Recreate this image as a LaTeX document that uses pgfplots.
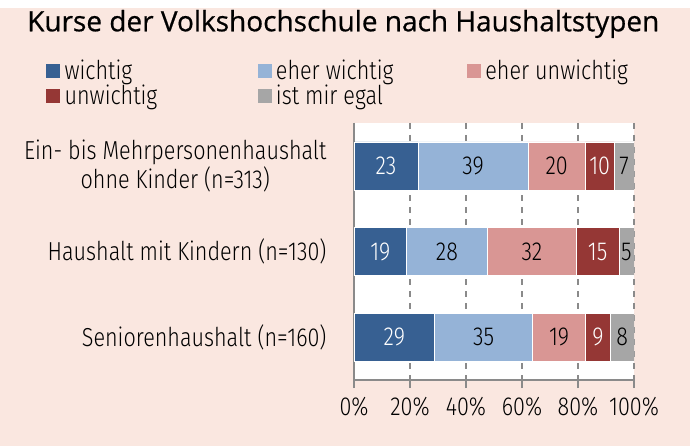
\documentclass[border=0pt]{standalone}
\usepackage{fontspec}
\setmainfont{Fira Sans Light}[FakeStretch=0.83]
\newfontfamily\titlefont{Open Sans}[FakeBold=0.6]
\usepackage{pgfplots}
\pgfplotsset{compat=1.18}
\definecolor{bgpink}{HTML}{FAE7E0}
\definecolor{cA}{HTML}{376092}
\definecolor{cB}{HTML}{95B3D7}
\definecolor{cC}{HTML}{D99694}
\definecolor{cD}{HTML}{953735}
\definecolor{cE}{HTML}{A6A6A6}
\definecolor{axgray}{HTML}{8A8A8A}
\newcommand{\fs}{\fontsize{26}{29.5}\selectfont}
\begin{document}
\begin{tikzpicture}[x=1pt,y=1pt]
\fill[bgpink] (0,0) rectangle (690,438);
\fill[white] (0,438) rectangle (690,446);
\node[anchor=west, inner sep=0pt, font=\titlefont\fontsize{28}{32}\selectfont] at (27,422) {Kurse der Volkshochschule nach Haushaltstypen};
\pgfplotsset{
  common/.style={
    at={(354pt,66pt)}, anchor=south west, scale only axis,
    width=280pt, height=257pt,
    xmin=0, xmax=100, ymin=0.5, ymax=3.5, y dir=reverse,
  }
}
\begin{axis}[common,
  xbar stacked, bar width=48pt,
  axis background/.style={fill=white},
  axis lines*=left,
  axis line style={axgray, line width=1.3pt},
  xtick={0,20,40,60,80,100},
  xticklabel={\pgfmathprintnumber{\tick}\%},
  /pgf/number format/assume math mode=true,
  xmajorgrids,
  grid style={axgray, line width=1.2pt, dash pattern=on 6pt off 6pt},
  ytick={1,2,3},
  yticklabels={{Ein- bis Mehrpersonenhaushalt\\ohne Kinder (n=313)},{Haushalt mit Kindern (n=130)},{Seniorenhaushalt (n=160)}},
  minor ytick={0.5,1.5,2.5,3.5},
  tick align=outside,
  major tick length=8pt, minor tick length=8pt,
  ytick style={draw=none},
  minor tick style={axgray, line width=1.3pt, draw=axgray},
  xtick style={axgray, line width=1.3pt},
  yticklabel style={align=center, font=\fs, xshift=-16pt},
  xticklabel style={font=\fs, yshift=-6pt},
  tick label style={text=black},
  legend style={at={(rel axis cs:-1.1,1.255)}, anchor=north west, draw=none, fill=none,
    legend columns=3, font=\fs, inner sep=0pt, row sep=0pt,
    /tikz/every even column/.append style={column sep=0pt}},
  legend cell align=left,
]
\addplot[fill=cA, draw=white, line width=0.4pt, legend image code/.code={\fill[cA] (0pt,-6.5pt) rectangle (13pt,6.5pt);}] coordinates {(22.8,1) (18.8,2) (28.8,3)};
\addlegendentry{\makebox[194pt][l]{\hspace{3pt}wichtig}}
\addplot[fill=cB, draw=white, line width=0.4pt, legend image code/.code={\fill[cB] (0pt,-6.5pt) rectangle (13pt,6.5pt);}] coordinates {(39.4,1) (28.8,2) (35.0,3)};
\addlegendentry{\makebox[192pt][l]{\hspace{3pt}eher wichtig}}
\addplot[fill=cC, draw=white, line width=0.4pt, legend image code/.code={\fill[cC] (0pt,-6.5pt) rectangle (13pt,6.5pt);}] coordinates {(20.4,1) (31.8,2) (18.9,3)};
\addlegendentry{\hspace{3pt}eher unwichtig}
\addplot[fill=cD, draw=white, line width=0.4pt, legend image code/.code={\fill[cD] (0pt,-6.5pt) rectangle (13pt,6.5pt);}] coordinates {(10.3,1) (15.2,2) (8.9,3)};
\addlegendentry{\makebox[194pt][l]{\hspace{3pt}unwichtig}}
\addplot[fill=cE, draw=white, line width=0.4pt, legend image code/.code={\fill[cE] (0pt,-6.5pt) rectangle (13pt,6.5pt);}] coordinates {(7.1,1) (5.4,2) (8.4,3)};
\addlegendentry{\makebox[192pt][l]{\hspace{3pt}ist mir egal}}
\end{axis}
\begin{axis}[common, hide axis,
  nodes near coords, point meta=explicit symbolic,
  every node near coord/.append style={anchor=center, font=\fs, inner sep=0pt},
]
\addplot[only marks, mark=none, nodes near coords style={text=white}] coordinates {(11.4,1)[23] (9.4,2)[19] (14.4,3)[29]};
\addplot[only marks, mark=none, nodes near coords style={text=black}] coordinates {(42.5,1)[39] (33.2,2)[28] (46.3,3)[35]};
\addplot[only marks, mark=none, nodes near coords style={text=black}] coordinates {(72.4,1)[20] (63.5,2)[32] (73.25,3)[19]};
\addplot[only marks, mark=none, nodes near coords style={text=white}] coordinates {(87.75,1)[10] (87.0,2)[15] (87.15,3)[9]};
\addplot[only marks, mark=none, nodes near coords style={text=black}] coordinates {(96.45,1)[7] (97.3,2)[5] (95.8,3)[8]};
\end{axis}
\end{tikzpicture}
\end{document}
